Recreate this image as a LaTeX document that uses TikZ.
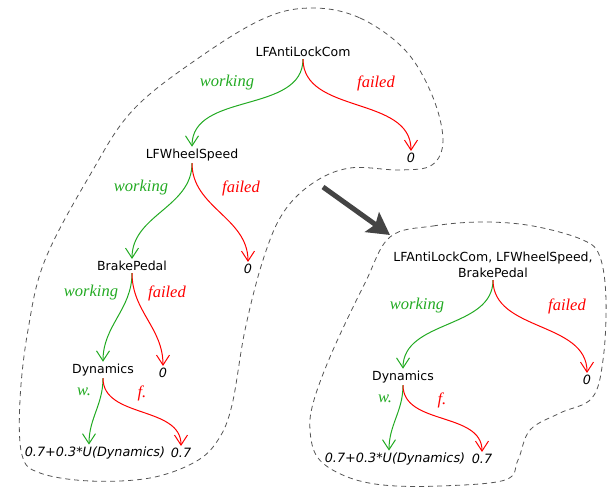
\documentclass[tikz,border=0pt]{standalone}
\usepackage{fontspec}
\setmainfont{DejaVu Sans}
\newfontfamily\branchfont{Liberation Serif}
\usetikzlibrary{arrows.meta}
\definecolor{okgreen}{RGB}{34,170,34}
\definecolor{badred}{RGB}{255,0,0}
\definecolor{blobgray}{RGB}{85,85,85}
\definecolor{bigarrow}{RGB}{68,68,68}

\begin{document}
\begin{tikzpicture}[x=1pt,y=-1pt]
  \tikzstyle{var}=[inner sep=2pt, font=\fontsize{12.5}{16}\selectfont]
  \tikzstyle{val}=[inner sep=2pt, font=\fontsize{12.8}{14}\selectfont\itshape]
  \tikzstyle{lbl}=[font=\fontsize{16.5}{18}\selectfont\branchfont\itshape]
  \tikzstyle{work}=[draw=okgreen, line width=1pt, -{Straight Barb[length=10pt,width=13pt]}]
  \tikzstyle{fail}=[draw=badred, line width=1pt, -{Straight Barb[length=10pt,width=13pt]}]
  \tikzstyle{blob}=[draw=blobgray, line width=0.8pt, dash pattern=on 5pt off 4pt]
  \useasboundingbox (0,0) rectangle (610,489);

  % Linker Baum
  \node[var] (a1) at (303,52) {LFAntiLockCom};
  \node[var] (a2) at (192,155) {LFWheelSpeed};
  \node[val] (a2z) at (411,158) {0};
  \node[var] (a3) at (132,266) {BrakePedal};
  \node[val] (a3z) at (248,269) {0};
  \node[var] (a4) at (103,370) {Dynamics};
  \node[val] (a4z) at (163,373) {0};
  \node[val] (a5) at (95,453) {0.7+0.3*U(Dynamics)};
  \node[val] (a5z) at (181,453) {0.7};

  \draw[work] (a1.south) to[out=-90,in=90] (a2.north);
  \draw[fail] (a1.south) to[out=-90,in=90] (a2z.north);
  \draw[work] (a2.south) to[out=-90,in=90] (a3.north);
  \draw[fail] (a2.south) to[out=-90,in=90] (a3z.north);
  \draw[work] (a3.south) to[out=-90,in=90] (a4.north);
  \draw[fail] (a3.south) to[out=-90,in=90] (a4z.north);
  \draw[work] (a4.south) to[out=-90,in=90] ([xshift=-6pt]a5.north);
  \draw[fail] (a4.south) to[out=-90,in=90] (a5z.north);

  \node[lbl, text=okgreen] (l1w) at (227,83) {working};
  \node[lbl, text=badred] (l1f) at (376,83) {failed};
  \node[lbl, text=okgreen] (l2w) at (141,188) {working};
  \node[lbl, text=badred] (l2f) at (241,188) {failed};
  \node[lbl, text=okgreen] (l3w) at (91,293) {working};
  \node[lbl, text=badred] (l3f) at (167,293) {failed};
  \node[lbl, text=okgreen] (l4w) at (84,392) {w.};
  \node[lbl, text=badred] (l4f) at (142,393) {f.};

  % Rechter Baum
  \node[var, align=center] (b1) at (493,265) {LFAntiLockCom, LFWheelSpeed,\\BrakePedal};
  \node[var] (b2) at (403,377) {Dynamics};
  \node[val] (b2z) at (587,380) {0};
  \node[val] (b3) at (395,459) {0.7+0.3*U(Dynamics)};
  \node[val] (b3z) at (482,459) {0.7};

  \draw[work] (b1.south) to[out=-90,in=90] (b2.north);
  \draw[fail] (b1.south) to[out=-90,in=90] (b2z.north);
  \draw[work] (b2.south) to[out=-90,in=90] ([xshift=-6pt]b3.north);
  \draw[fail] (b2.south) to[out=-90,in=90] (b3z.north);

  \node[lbl, text=okgreen] (r1w) at (417,306) {working};
  \node[lbl, text=badred] (r1f) at (567,306) {failed};
  \node[lbl, text=okgreen] (r2w) at (385,399) {w.};
  \node[lbl, text=badred] (r2f) at (442,400) {f.};

  % Umrandungen
  \draw[blob] plot[smooth cycle, tension=0.6] coordinates {
    (313,8) (360,18) (405,50) (432,95) (443,140) (432,165) (400,170)
    (350,168) (313,183) (283,213) (263,260) (245,330) (232,405)
    (218,440) (195,462) (150,478) (90,481) (40,473) (22,455) (20,400)
    (28,330) (45,260) (90,175) (133,110) (200,57) (265,18)};
  \draw[blob] plot[smooth cycle, tension=0.6] coordinates {
    (390,237) (433,226) (483,222) (533,226) (583,240) (600,257)
    (606,300) (603,360) (592,398) (560,413) (530,430) (518,460)
    (505,480) (440,486) (383,485) (345,476) (318,458) (310,430)
    (314,400) (333,350) (365,283)};

  % Pfeil
  \coordinate (from) at (323,187);
  \coordinate (to) at (390,235);
  \draw[bigarrow, line width=5pt, -{Stealth[length=22pt,width=24pt,inset=4pt]}] (from) -- (to);
\end{tikzpicture}
\end{document}
